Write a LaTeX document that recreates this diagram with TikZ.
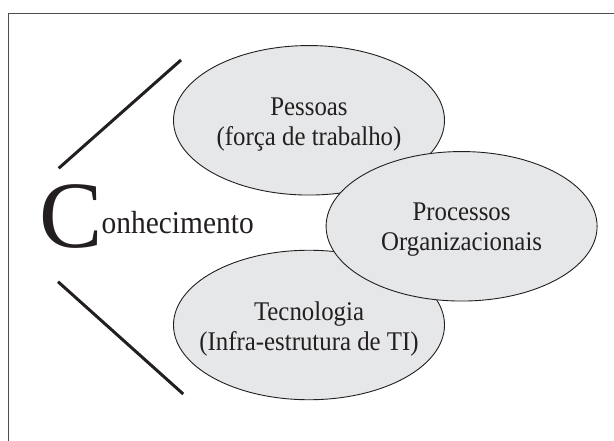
\documentclass[tikz,border=0pt]{standalone}
\usepackage{fontspec}
\setmainfont{Liberation Serif}
\usetikzlibrary{shapes.geometric}
\definecolor{ink}{HTML}{231F20}
\definecolor{ellfill}{HTML}{E6E7E8}
\begin{document}
\begin{tikzpicture}[x=1pt,y=-1pt,
  oval/.style={ellipse,draw=ink,line width=0.9pt,fill=ellfill,minimum width=271pt,minimum height=149.5pt,inner sep=0pt},
  ovaltext/.style={align=center,text=ink,font=\fontsize{27}{30}\selectfont,inner sep=0pt,xscale=0.92},
  brace/.style={draw=ink,line width=3pt},
  frameline/.style={draw=ink!80,line width=1.3pt}]
\useasboundingbox (0,0) rectangle (614,441);
\coordinate (fb) at (8.4,441);
\coordinate (fc) at (8.4,13.3);
\coordinate (fr) at (614,13.3);
\draw[frameline] (fb) -- (fc) -- (fr);
% slashes
\coordinate (s1a) at (58.7,168.3);
\coordinate (s1b) at (181,60);
\coordinate (s2a) at (58,281.7);
\coordinate (s2b) at (183.2,394);
\draw[brace] (s1a) -- (s1b);
\draw[brace] (s2a) -- (s2b);
% title
\node[anchor=base west,inner sep=0pt,text=ink,font=\fontsize{95}{95}\selectfont] (bigc) at (39,247.7) {C};
\node[anchor=base west,inner sep=0pt,text=ink,font=\fontsize{32}{32}\selectfont,xscale=0.92] (rest) at (101.5,233.3) {onhecimento};
% ellipses
\node[oval] (pes) at (309,120.3) {};
\node[oval] (tec) at (309,325) {};
\node[oval] (pro) at (461.6,226.3) {};
\node[ovaltext] (pest) at ([yshift=-4pt]pes.center) {Pessoas\\(força de trabalho)};
\node[ovaltext] (tect) at ([yshift=-4pt]tec.center) {Tecnologia\\(Infra-estrutura de TI)};
\node[ovaltext] (prot) at ([yshift=-3pt]pro.center) {Processos\\Organizacionais};
\end{tikzpicture}
\end{document}
